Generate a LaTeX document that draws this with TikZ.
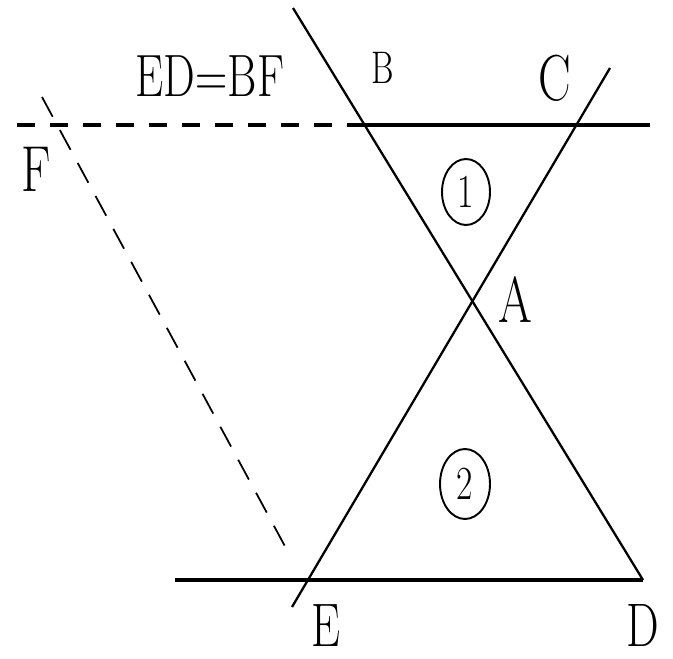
\documentclass[tikz,border=0pt]{standalone}
\newcommand{\narrow}[1]{\scalebox{0.75}[1]{#1}}
\usetikzlibrary{shapes.geometric}

\begin{document}
\begin{tikzpicture}[
		x=0.02cm, y=-0.02cm,
		heavy/.style={line width=2.3pt},
		light/.style={line width=1.3pt},
		heavydash/.style={line width=2.3pt, dash pattern=on 0.36cm off 0.3cm},
		lightdash/.style={line width=1pt, dash pattern=on 0.45cm off 0.3cm},
		lab/.style={font=\fontsize{37}{40}\selectfont, inner sep=0pt, anchor=base},
		area/.style={draw, ellipse, line width=1.1pt, inner sep=0pt,
			minimum width=0.96cm, minimum height=1.32cm,
			font=\fontsize{27}{28}\selectfont}
	]
	\useasboundingbox (0,0) rectangle (673,659);

	% points of the figure
	\coordinate (L) at (17,125);
	\coordinate (B) at (364,125);
	\coordinate (R) at (650,125);
	\coordinate (Btop) at (293,8);
	\coordinate (D) at (643,580);
	\coordinate (Ctop) at (610,68);
	\coordinate (Ebot) at (292,607);
	\coordinate (Bl) at (175,580);
	\coordinate (Ftop) at (42,97);
	\coordinate (Fbot) at (287,550);

	% lines
	\draw[heavydash] (L) -- (B);
	\draw[heavy] (B) -- (R);
	\draw[heavy] (Bl) -- (D);
	\draw[light] (Btop) -- (D);
	\draw[light] (Ctop) -- (Ebot);
	\draw[lightdash] (Ftop) -- (Fbot);

	% labels
	\node[lab, font=\fontsize{34}{36}\selectfont] (eq) at (210,96) {\narrow{ED=BF}};
	\node[lab, font=\fontsize{26}{28}\selectfont] (lB) at (383,83) {\narrow{B}};
	\node[lab] (lC) at (555,100) {\narrow{C}};
	\node[lab] (lF) at (36,191) {\narrow{F}};
	\node[lab] (lA) at (515,322) {\narrow{A}};
	\node[lab, font=\fontsize{35}{38}\selectfont] (lE) at (326,646) {\narrow{E}};
	\node[lab, font=\fontsize{35}{38}\selectfont] (lD) at (643,646) {\narrow{D}};

	\node[area] (one) at (466,192) {\narrow{1}};
	\node[area, minimum width=1cm, minimum height=1.4cm] (two) at (465,484) {\narrow{2}};
\end{tikzpicture}
\end{document}
